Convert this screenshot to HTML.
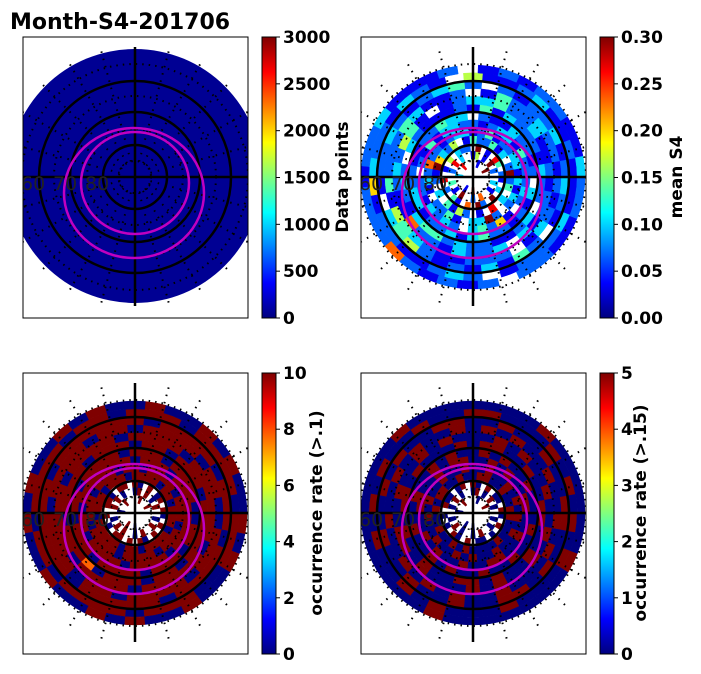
<!DOCTYPE html>
<html><head><meta charset="utf-8"><style>
html,body{margin:0;padding:0;background:#fff;width:701px;height:674px;overflow:hidden}
svg text{font-family:"DejaVu Sans","Liberation Sans",sans-serif}
</style></head><body>
<svg id="fig" width="701" height="674" viewBox="0 0 701 674" xmlns="http://www.w3.org/2000/svg">
<defs>
<linearGradient id="jet" x1="0" y1="1" x2="0" y2="0">
<stop offset="0" stop-color="#00007f"/><stop offset="0.125" stop-color="#0000ff"/><stop offset="0.375" stop-color="#00ffff"/><stop offset="0.625" stop-color="#ffff00"/><stop offset="0.875" stop-color="#ff0000"/><stop offset="1" stop-color="#7f0000"/>
</linearGradient>
</defs>
<text x="10" y="29" font-size="22" font-weight="bold">Month-S4-201706</text>
</svg>
<script>
// ---- data ----
const cbTicks1 = [0,500,1000,1500,2000,2500,3000];
const cbTicks2 = [0.00,0.05,0.10,0.15,0.20,0.25,0.30];
const cbTicks3 = [0,2,4,6,8,10];
const cbTicks4 = [0,1,2,3,4,5];
const cbLabels = ["Data points","mean S4","occurrence rate (>.1)","occurrence rate (>.15)"];
const latLabels = ["60","70","80"];
const countLevel = 0.02; // panel 1 uniform low counts
// rings inner->outer; each char = level 0-9 (fraction of colour range), '.' = no data
const meanS4 = [
"..9...1.....8...3.....1..9........",
".2.9.1.51..3.8.2..4.1.9..2.7..1.3.",
"2.48.1.9.223.5.1.8.2.41.7.92.9.3.1",
"92.3142241.5236912.3.4152.1.8.3.42",
"1332214213321227231.2241.3392.2313",
"2241332122331412.2213232.34261.232",
"21223112.334221122331223134221213.",
"312223141211123.232134423221123.22",
"21132243321.1452321172213223.31221",
"12232241.2113422241543211222.13212",
"2132212.2432123221.34521213142.123",
"121132115.1231223612211232.1222311",
"31122121.21113221222721212.221122"
];
const occ1 = [
"..9...9.....9...0.....9..0........",
".9.0.9.90..0.9.9..0.9.9..0.9..9.0.",
"9.90.9.09.99.099.9.0.99.9.90.9.9.0",
"9099099990999099909999909909999099",
"9909999099099909990999909999099909",
"9999099909999999099099990999909999",
"0999909990999909909990999909990990",
"9099909909990999909997099909909999",
"9999099990999909999909999099999099",
"0990999909909999099990990999909990",
"9909999099999909999990999990999909",
"0999909990990999909909999099900999",
"0090900900909009090090090900900909"
];
const occ2 = [
"..9...0.....9...0.....0..0........",
".0.9.0.90..0.9.0..0.9.0..0.9..0.0.",
"9.00.9.09.90.009.0.0.90.9.00.0.9.0",
"9009009900900990900900909000090009",
"0909009009009009090090090900900909",
"9900909009909009900909009009900900",
"0090090900909009009009090090090090",
"9009009909000909909009009909009009",
"0900909000909009009909000909009090",
"0090090909009090090090909009000909",
"9009009009900909009009009009909009",
"0909000990090090909009090009000909",
"0000900000009000000000090000000900"
];

const NS="http://www.w3.org/2000/svg";
const svg=document.getElementById('fig');
function mk(tag,attrs,parent){const e=document.createElementNS(NS,tag);for(const k in attrs)e.setAttribute(k,attrs[k]);(parent||svg).appendChild(e);return e;}
function jet(f){f=Math.max(0,Math.min(1,f));
 const st=[[0,0,0,127],[0.125,0,0,255],[0.375,0,255,255],[0.625,255,255,0],[0.875,255,0,0],[1,127,0,0]];
 for(let i=1;i<st.length;i++){if(f<=st[i][0]){const a=st[i-1],b=st[i],t=(f-a[0])/(b[0]-a[0]);
  return `rgb(${Math.round(a[1]+t*(b[1]-a[1]))},${Math.round(a[2]+t*(b[2]-a[2]))},${Math.round(a[3]+t*(b[3]-a[3]))})`;}}
 return 'rgb(127,0,0)';}
function sector(cx,cy,r0,r1,a0,a1){
 const p=(r,a)=>[cx+r*Math.cos(a),cy-r*Math.sin(a)];
 const [x0,y0]=p(r1,a0),[x1,y1]=p(r1,a1),[x2,y2]=p(r0,a1),[x3,y3]=p(r0,a0);
 return `M${x0},${y0}A${r1},${r1} 0 0 0 ${x1},${y1}L${x2},${y2}A${r0},${r0} 0 0 1 ${x3},${y3}Z`;}

const panels=[{x:23,y:37,data:null,ticks:cbTicks1,fmt:v=>v,label:0},
 {x:361,y:37,data:meanS4,ticks:cbTicks2,fmt:v=>v.toFixed(2),label:1},
 {x:23,y:373,data:occ1,ticks:cbTicks3,fmt:v=>v,label:2},
 {x:361,y:373,data:occ2,ticks:cbTicks4,fmt:v=>v,label:3}];
const W=225,H=281;
panels.forEach((P,i)=>{
 const cx=P.x+112,cy=P.y+140;
 const clip=mk('clipPath',{id:'clip'+i},svg.querySelector('defs'));
 mk('rect',{x:P.x,y:P.y,width:W,height:H},clip);
 const g=mk('g',{'clip-path':`url(#clip${i})`});
 
 
 if(!P.data){
  const d=mk('circle',{cx:cx,cy:cy-1,r:127,fill:jet(countLevel)},g);
  
  
 } else {
  const n=P.data.length,r0=10,r1=112,dr=(r1-r0)/n;
  P.data.forEach((s,ri)=>{
   const m=s.length;
   for(let k=0;k<m;k++){const c=s[k];if(c==='.')continue;
    const a0=k/m*2*Math.PI,a1=(k+1)/m*2*Math.PI;
    const p=mk('path',{d:sector(cx,cy,r0+ri*dr,r0+(ri+1)*dr,a0,a1),fill:jet(+c/9),stroke:jet(+c/9),'stroke-width':0.5},g);
    
    }
  });
 }
 // dotted grid
 [16,48,81,113].forEach(r=>{mk('circle',{cx:cx,cy:cy,r:r,fill:'none',stroke:'#000','stroke-width':2,'stroke-dasharray':'1.5 5'},g);});
 for(let a=0;a<360;a+=15){if(a%90===0)continue;const t=a*Math.PI/180;
  mk('line',{x1:cx+16*Math.cos(t),y1:cy-16*Math.sin(t),x2:cx+135*Math.cos(t),y2:cy-135*Math.sin(t),stroke:'#000','stroke-width':2,'stroke-dasharray':'1.5 6'},g);}
 // solid circles
 [32,65,96].forEach(r=>mk('circle',{cx:cx,cy:cy,r:r,fill:'none',stroke:'#000','stroke-width':2.5},g));
 mk('line',{x1:cx,y1:cy-130,x2:cx,y2:cy+129,stroke:'#000','stroke-width':2.5},g);
 mk('line',{x1:P.x,y1:cy,x2:P.x+W,y2:cy,stroke:'#000','stroke-width':2.5},g);
 // magenta ovals
 mk('ellipse',{cx:cx-1,cy:cy+16,rx:70,ry:65,fill:'none',stroke:'#c000c0','stroke-width':2.5},g);
 mk('ellipse',{cx:cx,cy:cy+6,rx:54,ry:51,fill:'none',stroke:'#c000c0','stroke-width':2.5},g);
 latLabels.forEach((t,j)=>{const e=mk('text',{x:P.x-2+j*32,y:cy+13,'font-size':19,fill:'#222'},g);e.textContent=t;
  
  });
 const fr=mk('rect',{x:P.x,y:P.y,width:W,height:H,fill:'none',stroke:'#000','stroke-width':1});
 
 
 // colorbar
 const bx=P.x+239,bw=14;
 const cb=mk('rect',{x:bx,y:P.y,width:bw,height:H,fill:'url(#jet)',stroke:'#000','stroke-width':1});
 
 
 const tmax=P.ticks[P.ticks.length-1];
 P.ticks.forEach(v=>{const y=P.y+H-v/tmax*H;
  mk('line',{x1:bx+bw,y1:y,x2:bx+bw+4,y2:y,stroke:'#000','stroke-width':1});
  const t=mk('text',{x:bx+bw+7,y:y+6,'font-size':17,'font-weight':'bold'});t.textContent=P.fmt(v);
  
  });
 const lx=[348,682,322,646][i];
 const lb=mk('text',{x:lx,y:cy,'font-size':17,'font-weight':'bold','text-anchor':'middle',transform:`rotate(-90 ${lx} ${cy})`});
 lb.textContent=cbLabels[P.label];
 
 
});
</script>
</body></html>
